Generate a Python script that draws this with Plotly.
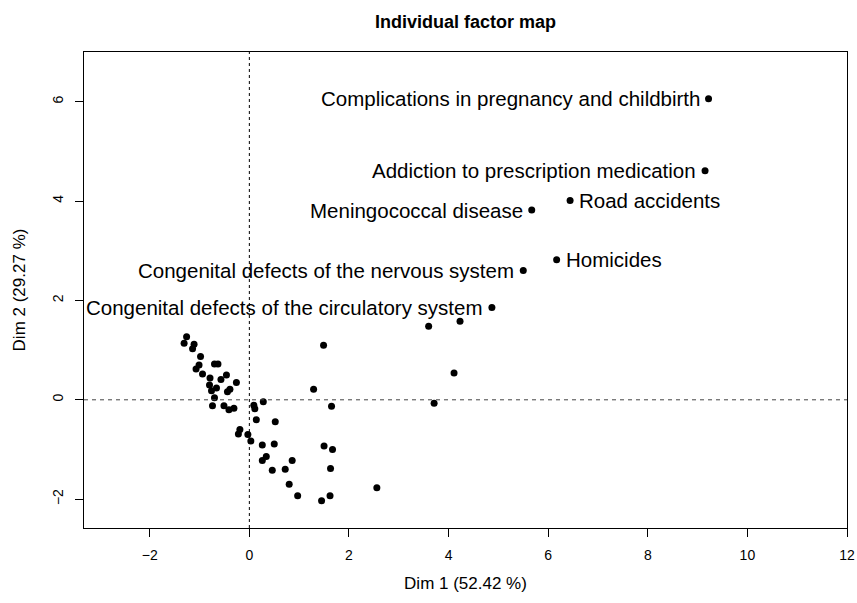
import plotly.graph_objects as go

# Unlabelled individuals (Dim 1, Dim 2)
dim1 = [-1.26, -1.31, -1.11, -1.14, -0.98, -1.01, -1.07, -0.70, -0.63, -0.94,
        -0.46, -0.57, -0.79, -0.26, -0.80, -0.66, -0.76, -0.39, -0.44, -0.70,
        -0.74, -0.51, -0.41, -0.31, 0.09, 0.11, 0.28, 0.14, 0.52, -0.19,
        -0.22, -0.03, 0.03, 0.26, 0.50, 1.29, 1.65, 1.50, 1.67, 0.34,
        0.26, 0.86, 0.46, 0.72, 1.63, 0.80, 2.56, 0.97, 1.45, 1.62,
        1.49, 3.60, 4.23, 4.11, 3.71]
dim2 = [1.27, 1.14, 1.12, 1.03, 0.87, 0.70, 0.62, 0.72, 0.72, 0.52,
        0.50, 0.41, 0.44, 0.35, 0.30, 0.24, 0.18, 0.21, 0.16, 0.04,
        -0.12, -0.12, -0.20, -0.17, -0.11, -0.18, -0.04, -0.40, -0.44, -0.60,
        -0.69, -0.70, -0.83, -0.91, -0.89, 0.21, -0.13, -0.93, -1.00, -1.14,
        -1.22, -1.22, -1.42, -1.40, -1.38, -1.70, -1.77, -1.93, -2.03, -1.93,
        1.10, 1.48, 1.58, 0.54, -0.07]

# Labelled individuals
lab_names = ["Complications in pregnancy and childbirth",
             "Addiction to prescription medication",
             "Road accidents",
             "Meningococcal disease",
             "Homicides",
             "Congenital defects of the nervous system",
             "Congenital defects of the circulatory system"]
lab_dim1 = [9.22, 9.15, 6.44, 5.67, 6.17, 5.50, 4.87]
lab_dim2 = [6.06, 4.61, 4.01, 3.82, 2.82, 2.60, 1.86]
lab_side = ["left", "left", "right", "left", "right", "left", "left"]

x_ticks = [-2, 0, 2, 4, 6, 8, 10, 12]
y_ticks = [-2, 0, 2, 4, 6]

fig = go.Figure()
fig.add_trace(go.Scatter(x=dim1 + lab_dim1, y=dim2 + lab_dim2, mode="markers",
                         marker=dict(color="black", size=7), showlegend=False,
                         hoverinfo="skip"))

for name, x, y, side in zip(lab_names, lab_dim1, lab_dim2, lab_side):
    fig.add_annotation(x=x, y=y, text=name, showarrow=False,
                       xanchor="right" if side == "left" else "left",
                       yanchor="middle",
                       xshift=-7 if side == "left" else 7,
                       font=dict(size=20.5, color="black"))

fig.add_shape(type="line", xref="x", yref="paper", x0=0, x1=0, y0=0, y1=1,
              line=dict(color="black", width=1, dash="3px,3px"))
fig.add_shape(type="line", xref="paper", yref="y", x0=0, x1=1, y0=0, y1=0,
              line=dict(color="#444444", width=1, dash="4px,4px"))

font_family = "Liberation Sans, Arial, sans-serif"
fig.update_layout(
    width=857, height=603,
    margin=dict(l=84, r=10, t=52, b=75, autoexpand=False),
    paper_bgcolor="white", plot_bgcolor="white",
    font=dict(family=font_family, color="black", size=14),
    title=dict(text="<b>Individual factor map</b>", x=0.5432, xanchor="center",
               y=0.9635, yanchor="middle", font=dict(size=18)),
    xaxis=dict(range=[-3.32, 12.0], tickvals=x_ticks,
               ticktext=[("\u2212" + str(-v)) if v < 0 else str(v) for v in x_ticks],
               showgrid=False, zeroline=False, showline=True, mirror=True,
               linecolor="black", linewidth=1, ticks="outside", ticklen=8,
               tickcolor="black", tickfont=dict(size=14), automargin=False,
               ticklabelstandoff=6,
               title=dict(text="Dim 1 (52.42 %)", standoff=15, font=dict(size=17))),
    yaxis=dict(range=[-2.58, 7.0], tickvals=y_ticks,
               ticktext=[("\u2212" + str(-v)) if v < 0 else str(v) for v in y_ticks],
               showgrid=False, zeroline=False, showline=True, mirror=True,
               linecolor="black", linewidth=1, ticks="outside", ticklen=8,
               tickcolor="black", tickangle=-90, tickfont=dict(size=14), automargin=False,
               ticklabelstandoff=6,
               title=dict(text="Dim 2 (29.27 %)", standoff=20, font=dict(size=17))),
)

fig.write_html("out.html", config={"displayModeBar": False},
               post_script="document.body.style.margin='0';document.body.style.overflow='hidden';")
